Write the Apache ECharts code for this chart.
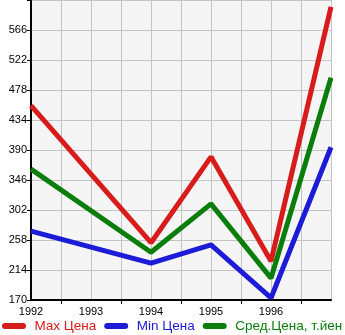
<!DOCTYPE html>
<html><head><meta charset="utf-8">
<script src="https://cdn.jsdelivr.net/npm/echarts@6/dist/echarts.min.js"></script>
<style>html,body{margin:0;padding:0;background:#fff}#c{width:345px;height:335px}</style>
</head><body><div id="c"></div>
<script>
const years = ['1992','1993','1994','1995','1996','1997'];
const yearLabels = ['1992','1993','1994','1995','1996'];
const maxPrice = [455, null, 254, 380, 227, 600];
const minPrice = [271, null, 224, 251, 173, 394];
const avgPrice = [362, null, 240, 311, 202, 496];
const yTickValues = [170, 214, 258, 302, 346, 390, 434, 478, 522, 566, 610];
const yLabelValues = [170, 214, 258, 302, 346, 390, 434, 478, 522, 566];
const seriesNames = ['Max Цена', 'Min Цена', 'Сред.Цена, т.йен'];

// half-year slots: year, half, year, half, ...
const cats = [];
years.forEach((y, i) => { cats.push(y); if (i < years.length - 1) cats.push(y + '.5'); });
function expand(arr) {
  const out = [];
  arr.forEach((v, i) => { out.push(v); if (i < arr.length - 1) out.push(null); });
  return out;
}
const colors = ['#d81c1c', '#1c1cd8', '#0a7d0a'];
const capsule = 'path://M3,0 H21 A3,3 0 0 1 21,6 H3 A3,3 0 0 1 3,0 Z';
const FONT = 'Liberation Sans';
const chart = echarts.init(document.getElementById('c'));
chart.setOption({
  animation: false,
  textStyle: {fontFamily: FONT},
  grid: {left: 31, right: 14, top: 0, bottom: 35, show: true, backgroundColor: '#f5f5f5', borderWidth: 0},
  legend: {
    bottom: -3, left: -3, itemGap: 8, itemWidth: 25, itemHeight: 6,
    width: 600,
    data: seriesNames.map((n, i) => ({name: n, icon: capsule, textStyle: {color: colors[i]}})),
    textStyle: {fontSize: 13.5, fontFamily: FONT, padding: [0, 0, 0, 3]}
  },
  xAxis: {
    type: 'category', data: cats, boundaryGap: false,
    axisLine: {lineStyle: {color: '#000', width: 2}},
    axisTick: {show: true, length: 4, lineStyle: {color: '#000'}, interval: (i) => i % 2 === 1},
    axisLabel: {
      color: '#000', fontSize: 11, margin: 6, fontFamily: FONT,
      interval: (i, v) => i % 2 === 0 && yearLabels.includes(v),
      formatter: (v) => yearLabels.includes(v) ? v : ''
    },
    splitLine: {show: true, interval: 0, lineStyle: {color: '#c4c4c4', width: 1}}
  },
  yAxis: {
    type: 'value', min: 170, max: 610,
    axisLine: {show: true, lineStyle: {color: '#000', width: 2}},
    axisTick: {show: true, length: 4, lineStyle: {color: '#000'}, customValues: yTickValues},
    axisLabel: {color: '#000', fontSize: 11, margin: 4, fontFamily: FONT, customValues: yLabelValues, verticalAlign: 'middle', padding: [0, 0, 8, 0]},
    splitLine: {show: true, lineStyle: {color: '#c4c4c4', width: 1}}
  },
  series: seriesNames.map((n, i) => ({
    name: n, type: 'line', connectNulls: true, showSymbol: false, symbol: 'none',
    data: expand([maxPrice, minPrice, avgPrice][i]),
    lineStyle: {color: colors[i], width: 5}, itemStyle: {color: colors[i]}
  }))
});
</script></body></html>
